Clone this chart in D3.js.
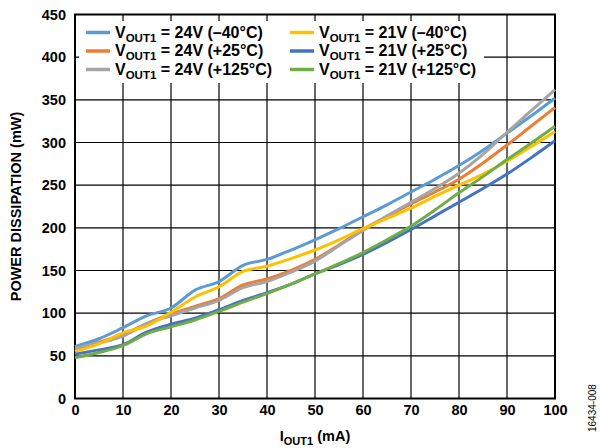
<!DOCTYPE html>
<html>
<head>
<meta charset="utf-8">
<script src="https://cdn.jsdelivr.net/npm/d3@7"></script>
<style>
  body { margin: 0; background: #fff; }
  svg text { font-family: "Liberation Sans", Arial, sans-serif; }
</style>
</head>
<body>
<svg id="chart" width="600" height="448"></svg>
<script>
// load current, mA
const current = [0, 5, 10, 15, 20, 25, 30, 35, 40, 45, 50, 55, 60, 65, 70, 75, 80, 85, 90, 95, 100];

// power dissipation, mW
const v24Cold = [61, 70, 83, 97, 106, 127, 137, 156, 163, 174, 186, 199, 213, 227, 242, 257, 273, 291, 311, 331, 352];
const v24Room = [57, 66, 75, 88, 99, 108, 117, 133, 140, 150, 163, 180, 198, 213, 228, 242, 257, 276, 297, 319, 341];
const v24Hot = [59, 65, 73, 88, 97, 106, 115, 130, 137, 148, 161, 179, 197, 214, 230, 246, 264, 286, 312, 337, 362];
const v21Cold = [55, 64, 77, 85, 101, 119, 131, 149, 155, 164, 174, 186, 199, 211, 223, 237, 250, 263, 278, 295, 313];
const v21Room = [52, 57, 63, 78, 87, 94, 104, 115, 124, 134, 146, 157, 169, 183, 198, 214, 230, 246, 263, 282, 302];
const v21Hot = [48, 54, 62, 76, 84, 92, 102, 113, 123, 134, 146, 158, 171, 186, 202, 221, 241, 260, 280, 299, 319];

const xTicks = [0, 10, 20, 30, 40, 50, 60, 70, 80, 90, 100];
const yTicks = [0, 50, 100, 150, 200, 250, 300, 350, 400, 450];

const series = [
  { volt: "24V", temp: "(–40°C)", color: "#5b9bd5", values: v24Cold },
  { volt: "24V", temp: "(+25°C)", color: "#ed7d31", values: v24Room },
  { volt: "24V", temp: "(+125°C)", color: "#a5a5a5", values: v24Hot },
  { volt: "21V", temp: "(–40°C)", color: "#ffc000", values: v21Cold },
  { volt: "21V", temp: "(+25°C)", color: "#4472c4", values: v21Room },
  { volt: "21V", temp: "(+125°C)", color: "#70ad47", values: v21Hot }
];

const svg = d3.select("#chart");
const plotL = 75, plotR = 555, plotT = 14.5, plotB = 398.5;

const x = d3.scaleLinear().domain([0, 100]).range([plotL, plotR]);
const y = d3.scaleLinear().domain([0, 450]).range([plotB, plotT]);

// grid
const grid = svg.append("g");
grid.selectAll(".vg")
  .data(xTicks.slice(1, -1))
  .enter()
  .append("line")
  .attr("x1", d => x(d)).attr("x2", d => x(d))
  .attr("y1", plotT).attr("y2", plotB)
  .attr("stroke", "#000").attr("stroke-width", 1.2);
grid.selectAll(".hg")
  .data(yTicks.slice(1, -1))
  .enter()
  .append("line")
  .attr("x1", plotL).attr("x2", plotR)
  .attr("y1", d => y(d)).attr("y2", d => y(d))
  .attr("stroke", "#000").attr("stroke-width", 1.2);

// legend background hides the grid behind it
svg.append("rect")
  .attr("x", 79).attr("y", 21)
  .attr("width", 405).attr("height", 62)
  .attr("fill", "#fff");

// frame
svg.append("rect")
  .attr("x", plotL).attr("y", plotT)
  .attr("width", plotR - plotL).attr("height", plotB - plotT)
  .attr("fill", "none")
  .attr("stroke", "#000")
  .attr("stroke-width", 2);

// axes labels
const yAxis = d3.axisLeft(y).tickValues(yTicks).tickSize(0).tickPadding(9);
svg.append("g")
  .attr("transform", `translate(${plotL},0)`)
  .call(yAxis)
  .call(g => g.select(".domain").remove())
  .selectAll("text")
  .attr("font-size", 14.5)
  .attr("font-weight", "bold")
  .attr("fill", "#000")
  .attr("font-family", "Liberation Sans, Arial, sans-serif");

const xAxis = d3.axisBottom(x).tickValues(xTicks).tickSize(0).tickPadding(6);
svg.append("g")
  .attr("transform", `translate(0,${plotB})`)
  .call(xAxis)
  .call(g => g.select(".domain").remove())
  .selectAll("text")
  .attr("font-size", 14.5)
  .attr("font-weight", "bold")
  .attr("fill", "#000")
  .attr("font-family", "Liberation Sans, Arial, sans-serif");

// curves
const line = d3.line()
  .x((d, i) => x(current[i]))
  .y(d => y(d))
  .curve(d3.curveMonotoneX);

svg.append("g")
  .selectAll("path")
  .data(series)
  .enter()
  .append("path")
  .attr("d", d => line(d.values))
  .attr("fill", "none")
  .attr("stroke", d => d.color)
  .attr("stroke-width", 3);

// legend
const legend = svg.append("g")
  .selectAll("g")
  .data(series)
  .enter()
  .append("g")
  .attr("transform", (d, i) => `translate(${i < 3 ? 86 : 290},${32.5 + (i % 3) * 18.5})`);

legend.append("line")
  .attr("x1", 0).attr("x2", 24)
  .attr("stroke", d => d.color)
  .attr("stroke-width", 3.5);

const label = legend.append("text")
  .attr("x", 29)
  .attr("y", 5)
  .attr("font-size", 16)
  .attr("font-weight", "bold");
label.append("tspan").text("V");
label.append("tspan").attr("font-size", 11.5).attr("dy", 4).text("OUT1");
label.append("tspan").attr("dy", -4).text(d => ` = ${d.volt} ${d.temp}`);

// axis titles
svg.append("text")
  .attr("transform", `translate(21,${(plotT + plotB) / 2}) rotate(-90)`)
  .attr("text-anchor", "middle")
  .attr("font-size", 14.5)
  .attr("font-weight", "bold")
  .text("POWER DISSIPATION (mW)");

const xTitle = svg.append("text")
  .attr("x", 315)
  .attr("y", 441)
  .attr("text-anchor", "middle")
  .attr("font-size", 14.5)
  .attr("font-weight", "bold");
xTitle.append("tspan").text("I");
xTitle.append("tspan").attr("font-size", 11).attr("dy", 4).text("OUT1");
xTitle.append("tspan").attr("dy", -4).text(" (mA)");

svg.append("text")
  .attr("transform", "translate(596,432) rotate(-90)")
  .attr("font-size", 10)
  .text("16434-008");
</script>
</body>
</html>
